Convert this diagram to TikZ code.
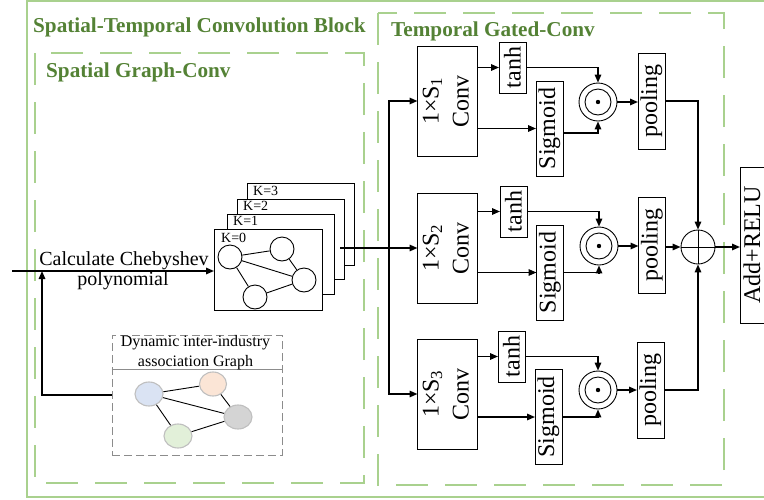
\documentclass[tikz,border=0pt]{standalone}
\usepackage{fontspec}
\setmainfont{Liberation Serif}
\usetikzlibrary{arrows.meta,shapes.geometric}

\definecolor{titlegreen}{HTML}{548235}
\definecolor{framegreen}{HTML}{A9D18E}
\definecolor{dyngray}{HTML}{8C8C8C}
\definecolor{nodeblue}{HTML}{DAE3F3}
\definecolor{nodeorange}{HTML}{FBE5D6}
\definecolor{nodegray}{HTML}{D4D4D4}
\definecolor{nodegreen}{HTML}{E2F0D9}
\definecolor{nodeedge}{HTML}{BFBFBF}

\newcommand\titlefont{\fontsize{21.2}{24}\selectfont\bfseries}
\newcommand\lblfont{\fontsize{24}{30}\selectfont}
\newcommand\txtfont{\fontsize{20}{24}\selectfont}
\newcommand\dynfont{\fontsize{16}{19}\selectfont}
\newcommand\kfont{\fontsize{14}{16}\selectfont}
\newcommand\convlabel[1]{\rotatebox{90}{\lblfont\begin{tabular}{@{}c@{}}1×S\textsubscript{#1}\\Conv\end{tabular}}}

\begin{document}
\begin{tikzpicture}[x=1pt,y=-1pt,
  box/.style={draw, line width=0.9pt, fill=white, inner sep=0pt, outer sep=0pt},
  convbox/.style={box, minimum width=57pt, minimum height=110pt},
  tanhbox/.style={box, minimum width=27pt, minimum height=51pt},
  sigbox/.style={box, minimum width=27pt, minimum height=95pt},
  poolbox/.style={box, minimum width=27pt, minimum height=96pt},
  kbox/.style={box, line width=0.8pt},
  klabel/.style={anchor=base west, inner sep=0pt, font=\kfont},
  gnode/.style={circle, draw, line width=0.9pt, fill=white, minimum size=24pt, inner sep=0pt},
  dnode/.style={ellipse, draw=nodeedge, line width=1.1pt, minimum width=28pt, minimum height=24pt, inner sep=0pt},
  prodnode/.style={circle, draw, line width=0.9pt, minimum size=38pt, inner sep=0pt},
  conn/.style={line width=1.5pt, -{Triangle[length=8pt,width=6.5pt]}},
  gedge/.style={line width=0.9pt},
  frame/.style={framegreen, line width=2pt},
  dframe/.style={frame, dash pattern=on 32pt off 17pt},
  title/.style={anchor=base west, inner sep=0pt, text=titlegreen, font=\titlefont}]

\useasboundingbox (0,0) rectangle (764,499);
\clip (0,0) rectangle (764,499);

% frames
\draw[frame] (27,1) rectangle (800,497);
\draw[dframe] (35,53) rectangle (364,483);
\draw[dframe] (378,13) rectangle (724,485);

\node[title] (t-block) at (33,32) {Spatial-Temporal Convolution Block};
\node[title] (t-spatial) at (46,77) {Spatial Graph-Conv};
\node[title] (t-temporal) at (391,36) {Temporal Gated-Conv};

% Chebyshev stack K=3 ... K=0
\node[kbox, minimum width=107pt, minimum height=82pt] (k3) at (300.5,224) {};
\node[klabel] (k3l) at ([xshift=6pt,yshift=-12pt]k3.north west) {K=3};
\node[kbox, minimum width=107pt, minimum height=80pt] (k2) at (290.5,239) {};
\node[klabel] (k2l) at ([xshift=6pt,yshift=-11pt]k2.north west) {K=2};
\node[kbox, minimum width=107pt, minimum height=80pt] (k1) at (280.5,254) {};
\node[klabel] (k1l) at ([xshift=6pt,yshift=-11pt]k1.north west) {K=1};
\node[kbox, minimum width=108pt, minimum height=81pt] (k0) at (268,269.5) {};
\node[klabel] (k0l) at ([xshift=7pt,yshift=-13pt]k0.north west) {K=0};

% graph drawn in the K=0 layer
\node[gnode] (ga) at (230,257) {};
\node[gnode] (gb) at (282,249) {};
\node[gnode] (gc) at (304,280) {};
\node[gnode] (gd) at (255,297) {};
\draw[gedge] (ga) -- (gb) (ga) -- (gc) (ga) -- (gd) (gb) -- (gc) (gd) -- (gc);

% input and Chebyshev label
\coordinate (inp) at (12,271);
\coordinate (feed) at (42,271);
\draw[conn] (inp) -- (inp -| k0.west);
\node[anchor=base, inner sep=0pt, font=\txtfont] (cheb1) at (124,265) {Calculate Chebyshev};
\node[anchor=base, inner sep=0pt, font=\txtfont] (cheb2) at (123,285) {polynomial};

% dynamic inter-industry association graph
\node[draw=dyngray, line width=0.9pt, dash pattern=on 8pt off 4pt, minimum width=170pt, minimum height=120pt, inner sep=0pt] (dyn) at (197,395) {};
\draw[dyngray, line width=0.9pt] (dyn.west |- 0,369) -- (dyn.east |- 0,369);
\node[anchor=base, inner sep=0pt, font=\dynfont] (dyn1) at (195.5,346) {Dynamic inter-industry};
\node[anchor=base, inner sep=0pt, font=\dynfont] (dyn2) at (195.5,366) {association Graph};
\node[dnode, fill=nodeblue] (db) at (149,394) {};
\node[dnode, fill=nodeorange, minimum width=27pt] (do) at (213,384) {};
\node[dnode, fill=nodegray] (dg) at (238,417) {};
\node[dnode, fill=nodegreen] (dn) at (178,436) {};
\draw[gedge] (db) -- (do) (db) -- (dg) (db) -- (dn) (do) -- (dg) (dn) -- (dg);
\draw[conn] (dyn.west) -| (feed);

% temporal gated convolution branches
\node[convbox] (conv1) at (447.5,101) {\convlabel{1}};
\node[convbox] (conv2) at (447.5,248) {\convlabel{2}};
\node[convbox] (conv3) at (447.5,394) {\convlabel{3}};

\node[tanhbox] (tanh1) at (512.5,67.5) {\rotatebox{90}{\lblfont tanh}};
\node[tanhbox] (tanh2) at (513.5,211.5) {\rotatebox{90}{\lblfont tanh}};
\node[tanhbox] (tanh3) at (511.5,356.5) {\rotatebox{90}{\lblfont tanh}};

\node[sigbox] (sig1) at (549.5,128.5) {\rotatebox{90}{\lblfont Sigmoid}};
\node[sigbox] (sig2) at (550,272.5) {\rotatebox{90}{\lblfont Sigmoid}};
\node[sigbox] (sig3) at (548.5,417) {\rotatebox{90}{\lblfont Sigmoid}};

\node[prodnode] (odot1) at (598,102) {};
\node[prodnode] (odot2) at (599,246) {};
\node[prodnode] (odot3) at (598,390) {};
\foreach \o in {odot1,odot2,odot3}{
  \draw[line width=0.9pt] (\o.center) circle (13pt);
  \fill (\o.center) circle (2.2pt);
}

\node[poolbox] (pool1) at (651.5,101) {\rotatebox{90}{\lblfont pooling}};
\node[poolbox] (pool2) at (652,245) {\rotatebox{90}{\lblfont pooling}};
\node[poolbox] (pool3) at (650.5,390) {\rotatebox{90}{\lblfont pooling}};

\node[circle, draw, line width=0.9pt, minimum size=34pt, inner sep=0pt] (oplus) at (698,247) {};
\draw[line width=0.9pt] (oplus.north) -- (oplus.south) (oplus.west) -- (oplus.east);

\node[box, minimum width=24pt, minimum height=156pt] (addrelu) at (752,245) {\rotatebox{90}{\lblfont Add+RELU}};

% stack output split to the three convolutions
\coordinate (kout) at (340,248);
\coordinate (split) at (389,248);
\draw[conn] (kout) -- (conv2.west);
\draw[conn] (split) |- (conv1.west);
\draw[conn] (split) |- (conv3.west);

% gates
\foreach \i in {1,2,3}{
  \draw[conn] (conv\i.east |- tanh\i.west) -- (tanh\i.west);
  \draw[conn] (conv\i.east |- sig\i.west) -- (sig\i.west);
  \draw[conn] (tanh\i.east) -| (odot\i.north);
  \draw[conn] (odot\i.east) -- (odot\i.east -| pool\i.west);
}
\draw[conn] ([yshift=-4.5pt]sig1.east) -| (odot1.south);
\draw[conn] (sig2.east) -| (odot2.south);
\draw[conn] (sig3.east) -| (odot3.south);

% merge
\draw[conn] (pool1.east) -| (oplus.north);
\draw[conn] (pool2.east |- oplus.west) -- (oplus.west);
\draw[conn] (pool3.east) -| (oplus.south);
\draw[conn] (oplus.east) -- (oplus.east -| addrelu.west);
\end{tikzpicture}
\end{document}
